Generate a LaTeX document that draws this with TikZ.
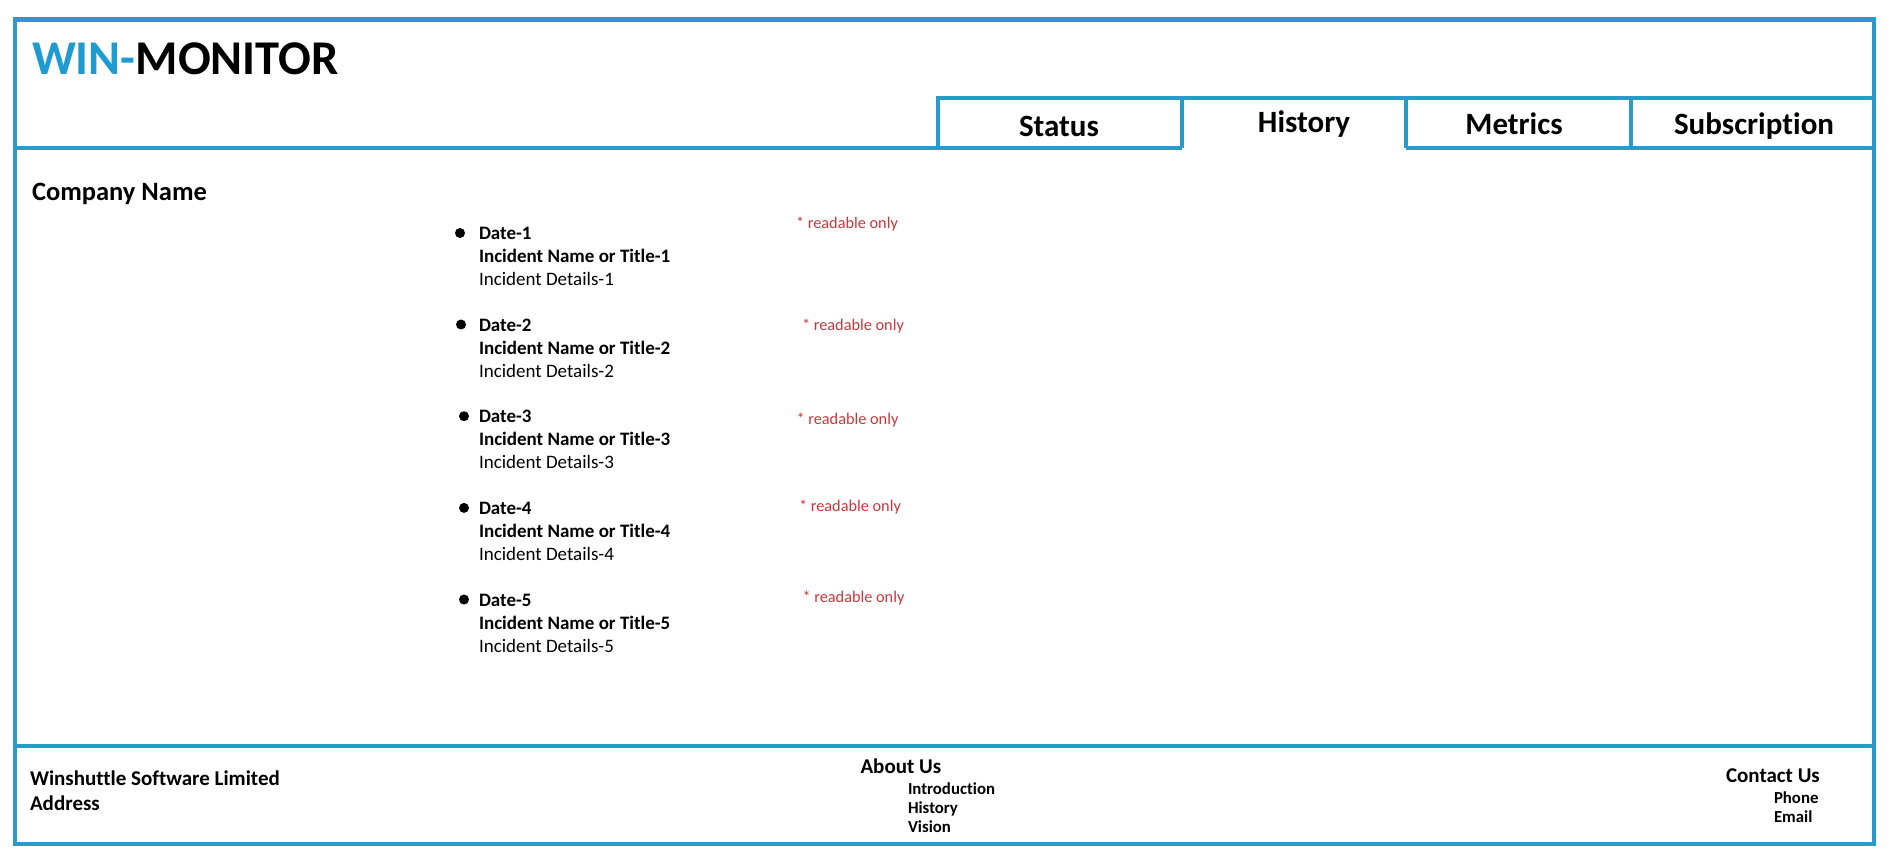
\documentclass[tikz,border=0pt]{standalone}
\usepackage{fontspec}
\setmainfont{Carlito}[Ligatures=NoCommon]
\definecolor{frame}{HTML}{2A9BC8}
\definecolor{winblue}{HTML}{1E9BD0}
\definecolor{note}{HTML}{C8373C}
\begin{document}
\begin{tikzpicture}[x=1pt,y=-1pt,
  frameline/.style={draw=frame,line width=4.5pt},
  txt/.style={anchor=base west,inner sep=0pt,outer sep=0pt,text=black},
  logo/.style={txt,font=\fontsize{48.5}{52}\selectfont\bfseries},
  tabtxt/.style={anchor=base,inner sep=0pt,outer sep=0pt,font=\fontsize{31}{34}\selectfont\bfseries},
  company/.style={txt,font=\fontsize{26.5}{30}\selectfont\bfseries},
  itembold/.style={txt,font=\fontsize{19}{22}\selectfont\bfseries},
  itemreg/.style={txt,font=\fontsize{19}{22}\selectfont},
  readable/.style={txt,text=note,font=\fontsize{16.3}{19}\selectfont},
  foothead/.style={txt,font=\fontsize{21}{24}\selectfont\bfseries},
  footsub/.style={txt,font=\fontsize{16.8}{19}\selectfont\bfseries},
  bulletdot/.style={circle,fill=black,inner sep=0pt,minimum size=10pt}]
\useasboundingbox (0,0) rectangle (1895,861);
% frame
\draw[frameline] (15,19.5) rectangle (1874,844);
% header line and tabs
\draw[frameline] (15,148) -- (1182,148);
\draw[frameline] (1406,148) -- (1874,148);
\draw[frameline] (938,148) -- (938,98) -- (1874,98);
\draw[frameline] (1182,98) -- (1182,148);
\draw[frameline] (1406,98) -- (1406,148);
\draw[frameline] (1631,98) -- (1631,148);
% footer line
\draw[frameline] (15,746) -- (1874,746);
% logo
\node[logo] (logo) at (32,75) {\textcolor{winblue}{WIN-}MONITOR};
% tabs
\node[tabtxt] (status) at (1059,137) {Status};
\node[tabtxt] (history) at (1304,133) {History};
\node[tabtxt] (metrics) at (1514,134.5) {Metrics};
\node[tabtxt] (subscr) at (1754,134.5) {Subscription};
% company
\node[company] (company) at (32,201) {Company Name};
% incidents
\foreach \i/\yy/\bx/\rx/\ry in {1/239.5/460/796/229, 2/331/461/802/330, 3/422.7/464/796.5/424, 4/514.4/464/799/511, 5/606/464/802.5/602} {
  \node[bulletdot] (bullet\i) at (\bx,\yy-6.5) {};
  \node[itembold] (date\i) at (479,\yy) {Date-\i};
  \node[itembold] (title\i) at (479,\yy+23) {Incident Name or Title-\i};
  \node[itemreg] (details\i) at (479,\yy+46) {Incident Details-\i};
  \node[readable] (note\i) at (\rx,\ry) {* readable only};
}
% footer
\node[foothead] (wsl) at (30,785) {Winshuttle Software Limited};
\node[foothead] (addr) at (30,810) {Address};
\node[foothead] (about) at (860.5,773) {About Us};
\node[footsub] (intro) at (908,794) {Introduction};
\node[footsub] (hist) at (908,813) {History};
\node[footsub] (vision) at (908,832) {Vision};
\node[foothead] (contact) at (1726,782) {Contact Us};
\node[footsub] (phone) at (1774,803) {Phone};
\node[footsub] (email) at (1774,822) {Email};
\end{tikzpicture}
\end{document}
